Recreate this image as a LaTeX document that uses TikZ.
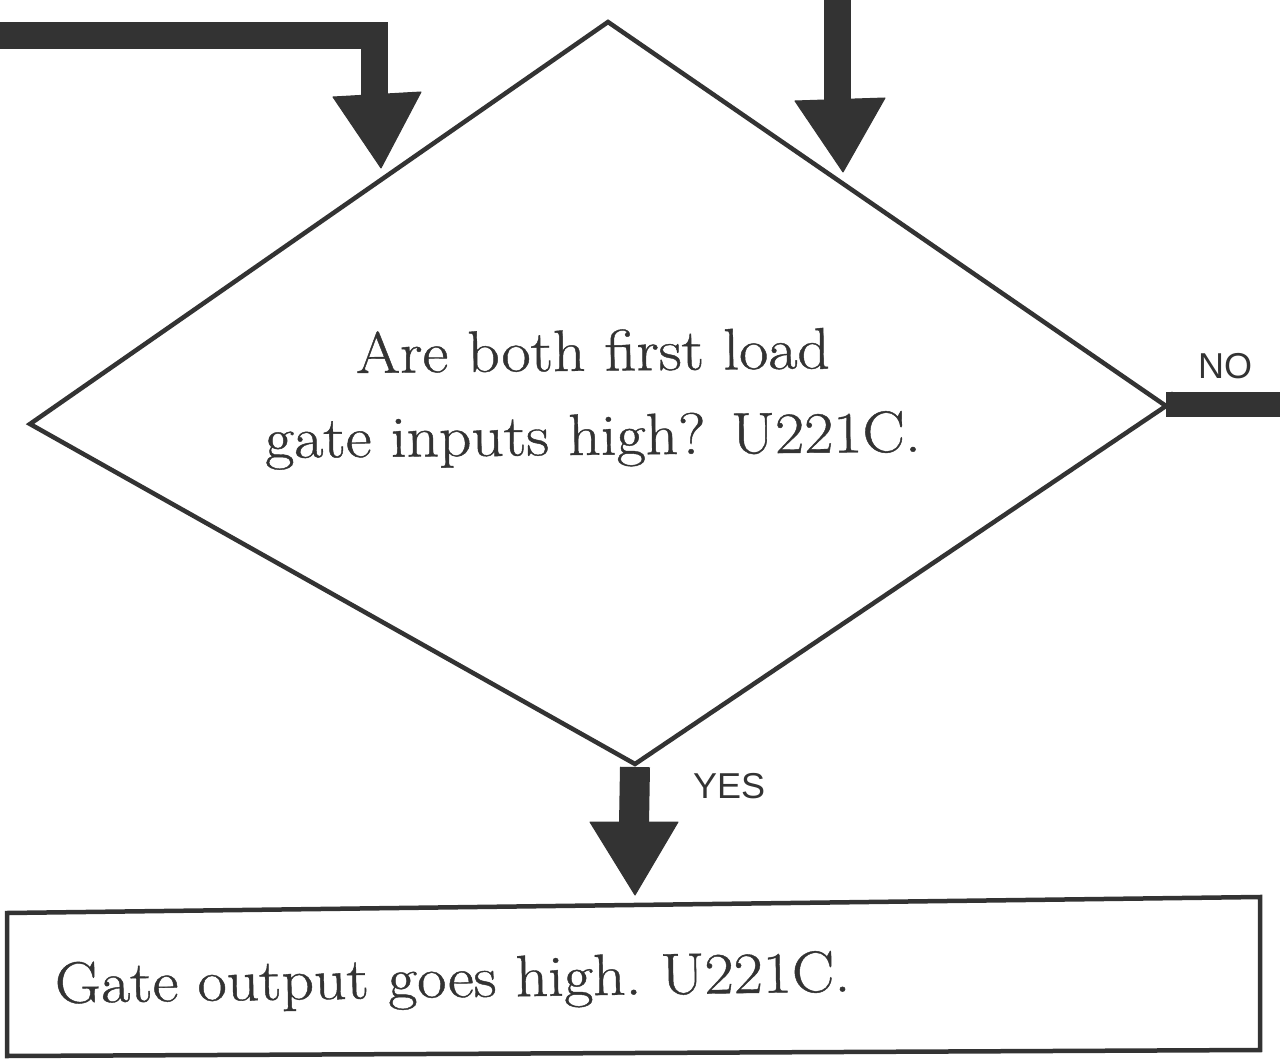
\documentclass[tikz,border=0pt]{standalone}
\usepackage{fontspec}
\newfontfamily\labelfont{Liberation Sans}
\newfontfamily\bodyfont{Latin Modern Roman}[FakeBold=0.7]
\definecolor{ink}{RGB}{51,51,51}
\tikzset{
  fatline/.style={draw=ink, line width=27pt},
  headfill/.style={fill=ink, draw=ink, line width=1pt, line join=round},
  thinline/.style={draw=ink, line width=4.5pt, line join=miter},
  boxline/.style={draw=ink, line width=4.5pt, line join=miter},
  bodytext/.style={font=\bodyfont\fontsize{58.5}{70}\selectfont, text=ink, inner sep=0pt, anchor=base west, xscale=1.085},
  flagtext/.style={font=\labelfont\fontsize{36}{40}\selectfont, text=ink, inner sep=0pt, anchor=base west}
}
\begin{document}
\begin{tikzpicture}[x=1pt,y=-1pt]
\useasboundingbox[fill=white] (0,0) rectangle (1280,1059);
% diamond corners
\coordinate (dtop) at (608,22);
\coordinate (dright) at (1166,406);
\coordinate (dbottom) at (635,764);
\coordinate (dleft) at (30,424);
\draw[thinline] (dtop) -- (dright) -- (dbottom) -- (dleft) -- cycle;
% diamond text
\node[bodytext, rotate=0.6] (q1) at (356,373) {Are both first load};
\node[bodytext, rotate=0.6] (q2) at (265,458) {gate inputs high? U221C.};
% incoming arrow from left
\coordinate (lin) at (-10,36);
\coordinate (lbend) at (374,36);
\coordinate (lend) at (374,99);
\draw[fatline, line join=miter] (lin) -- (lbend) -- (lend);
\coordinate (ltip) at (381,168);
\filldraw[headfill] (333,97) -- (421,92) -- (ltip) -- cycle;
% incoming arrow from top
\coordinate (tin) at (837,-10);
\coordinate (tend) at (837,101);
\draw[fatline] (tin) -- (tend);
\coordinate (ttip) at (843,172);
\filldraw[headfill] (795,101) -- (885,98) -- (ttip) -- cycle;
% NO exit
\coordinate (nout) at (1290,404);
\draw[draw=ink, line width=25pt] (1166,404) -- (nout);
\filldraw[headfill] (dright) -- (1172,392) -- (1172,416) -- cycle;
\node[flagtext] (nolab) at (1198,378) {NO};
% YES arrow
\coordinate (yend) at (634,824);
\draw[draw=ink, line width=30pt] (dbottom) ++(0,3) -- (yend);
\coordinate (ytip) at (635,895);
\filldraw[headfill] (590,822) -- (678,822) -- (ytip) -- cycle;
\node[flagtext] (yeslab) at (693,798) {YES};
% result box
\coordinate (b1) at (7,913);
\coordinate (b2) at (1260,897);
\coordinate (b3) at (1260,1050);
\coordinate (b4) at (7,1056);
\draw[boxline] (b1) -- (b2) -- (b3) -- (b4) -- cycle;
\node[bodytext, rotate=0.9] (res) at (55,1003) {\frenchspacing Gate output goes high. U221C.};
\end{tikzpicture}
\end{document}
